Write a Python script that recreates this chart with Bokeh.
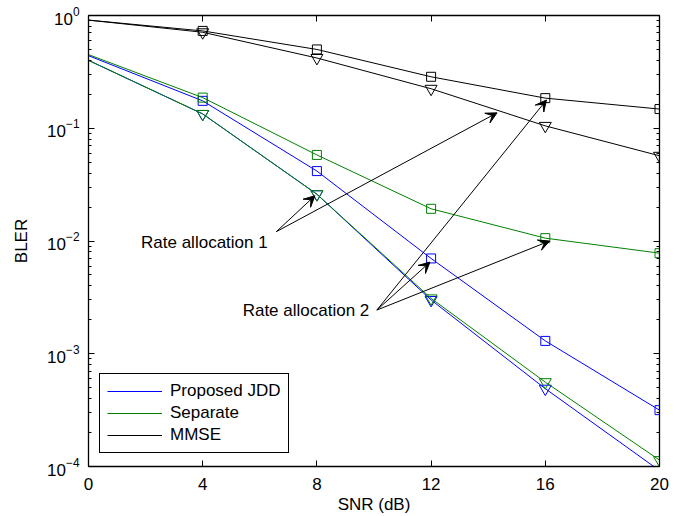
from bokeh.plotting import figure
from bokeh.models import (LinearAxis, LogAxis, FixedTicker, LogTicker, Legend, LegendItem,
                          Arrow, VeeHead, Label, Range1d, CustomJSTickFormatter)
from bokeh.embed import file_html
from bokeh.resources import INLINE

# ---------------- data ----------------
snr = [0, 4, 8, 12, 16, 20]
jdd_ra1 = [0.40, 0.134, 0.026, 0.0030, 0.00049, 0.000092]
jdd_ra2 = [0.44, 0.175, 0.0417, 0.0070, 0.0013, 0.000316]
sep_ra1 = [0.40, 0.134, 0.026, 0.0031, 0.00056, 0.000114]
sep_ra2 = [0.45, 0.187, 0.058, 0.0193, 0.0106, 0.0078]
mmse_ra1 = [0.91, 0.71, 0.42, 0.224, 0.105, 0.057]
mmse_ra2 = [0.91, 0.73, 0.50, 0.286, 0.185, 0.148]
legend_labels = ["Proposed JDD", "Separate", "MMSE"]

# annotations (data coordinates)
note_texts = ["Rate allocation 1", "Rate allocation 2"]
note_x = [1.84, 5.40]
note_y = [0.00975, 0.0024]
arrow_start_x = [6.58, 6.58, 10.1, 10.1, 10.1]
arrow_start_y = [0.0121, 0.0121, 0.00244, 0.00244, 0.00244]
arrow_end_x = [7.93, 14.31, 11.96, 16.15, 16.04]
arrow_end_y = [0.0252, 0.137, 0.0065, 0.0100, 0.178]

FONT = "Liberation Sans"
FS = "17px"

p = figure(width=690, height=516, x_range=Range1d(0, 20), y_range=Range1d(1e-4, 1),
           y_axis_type="log", output_backend="svg", toolbar_location=None,
           min_border_left=88, min_border_right=31, min_border_top=15, min_border_bottom=50)
p.xgrid.grid_line_color = None
p.ygrid.grid_line_color = None
p.outline_line_color = "black"
p.outline_line_width = 1
p.background_fill_color = "white"


def style(ax):
    ax.axis_line_color = "black"
    ax.axis_line_width = 1.3
    ax.major_tick_in = 6
    ax.major_tick_out = 0
    ax.minor_tick_in = 3
    ax.minor_tick_out = 0
    ax.major_tick_line_color = "black"
    ax.minor_tick_line_color = "black"
    ax.major_label_text_font = FONT
    ax.major_label_text_font_size = FS
    ax.major_label_text_color = "black"
    ax.axis_label_text_font = FONT
    ax.axis_label_text_font_size = FS
    ax.axis_label_text_font_style = "normal"
    ax.axis_label_text_color = "black"


xa = p.xaxis[0]
ya = p.yaxis[0]
style(xa)
style(ya)
xa.ticker = FixedTicker(ticks=snr)
xa.axis_label = "SNR (dB)"
xa.major_label_standoff = 11
xa.axis_label_standoff = 2
ya.ticker = LogTicker(num_minor_ticks=10)
ya.axis_label = "BLER"
ya.major_label_standoff = 9
ya.axis_label_standoff = 13

blank = CustomJSTickFormatter(code="return ''")
top = LinearAxis(ticker=FixedTicker(ticks=snr), formatter=blank)
style(top)
top.major_label_standoff = 0
top.major_label_text_font_size = "1px"
p.add_layout(top, "above")
right = LogAxis(ticker=LogTicker(num_minor_ticks=10), formatter=blank)
style(right)
right.major_label_standoff = 0
right.major_label_text_font_size = "1px"
p.add_layout(right, "right")

series = [
    (jdd_ra1, "#0000ff", "inverted_triangle", 0),
    (jdd_ra2, "#0000ff", "square", 0),
    (sep_ra1, "#008000", "inverted_triangle", 1),
    (sep_ra2, "#008000", "square", 1),
    (mmse_ra1, "black", "inverted_triangle", 2),
    (mmse_ra2, "black", "square", 2),
]
legend_renderers = {0: [], 1: [], 2: []}
for ys, col, mk, gi in series:
    r = p.line(snr, ys, line_color=col, line_width=1)
    legend_renderers[gi].append(r)
    mx = [x for x, y in zip(snr[1:], ys[1:]) if y >= 1e-4]
    my = [y for y in ys[1:] if y >= 1e-4]
    size = 12 if mk == "inverted_triangle" else 9
    p.scatter(mx, my, marker=mk, size=size, line_color=col, fill_color=None, line_width=1)

for xs, ys, xe, ye in zip(arrow_start_x, arrow_start_y, arrow_end_x, arrow_end_y):
    p.add_layout(Arrow(end=VeeHead(size=11, fill_color="black", line_color="black", line_width=1),
                       x_start=xs, y_start=ys, x_end=xe, y_end=ye,
                       line_color="black", line_width=1))

for t, x, y in zip(note_texts, note_x, note_y):
    p.add_layout(Label(x=x, y=y, text=t, text_font=FONT, text_font_size=FS,
                       text_baseline="middle", text_align="left", text_color="black"))

items = [LegendItem(label=legend_labels[i], renderers=[legend_renderers[i][0]]) for i in range(3)]
legend = Legend(items=items, location=(11, 13), padding=7, spacing=2, label_height=20,
                glyph_width=55, glyph_height=20, label_standoff=8, margin=0,
                border_line_color="black", border_line_width=1.5, border_line_alpha=1,
                label_text_font=FONT, label_text_font_size=FS, label_text_color="black",
                background_fill_color="white", background_fill_alpha=1)
p.add_layout(legend)

open("out.html", "w").write(file_html(p, INLINE))
